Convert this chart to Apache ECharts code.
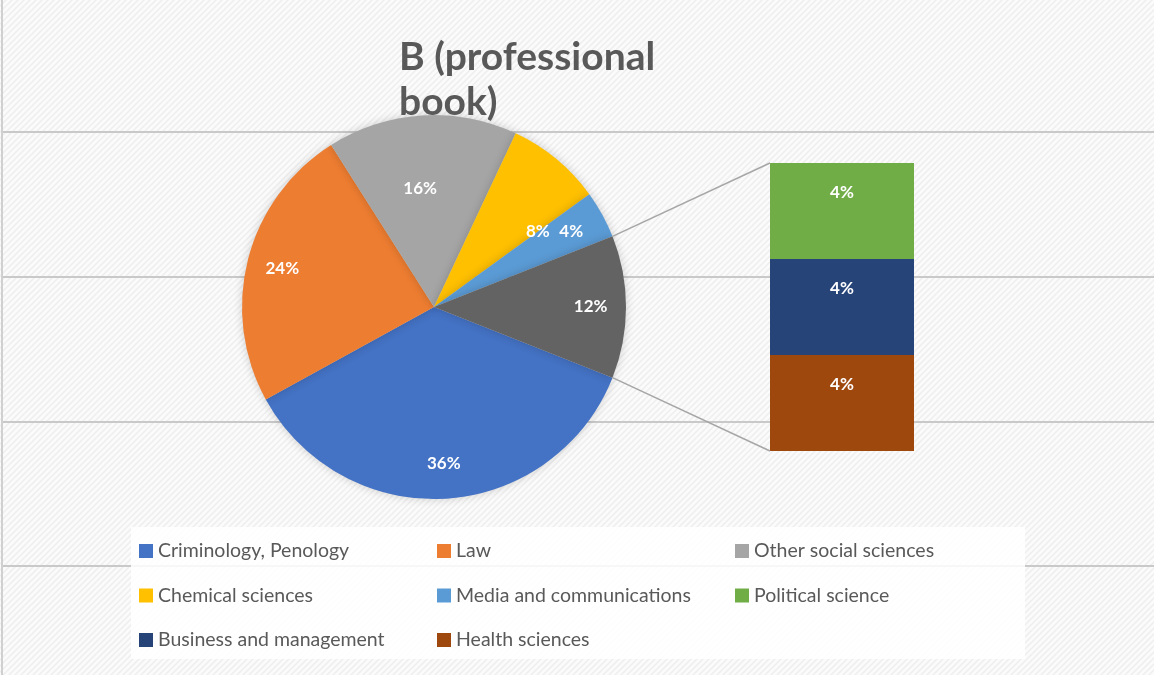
<!DOCTYPE html>
<html>
<head>
<meta charset="utf-8">
<script src="https://cdn.jsdelivr.net/npm/echarts@6/dist/echarts.min.js"></script>
<style>
  html, body { margin: 0; padding: 0; }
  #chart { width: 1154px; height: 675px; }
</style>
</head>
<body>
<div id="chart"></div>
<script>
// pie part
const pieNames = ['Criminology, Penology', 'Law', 'Other social sciences', 'Chemical sciences', 'Media and communications']
const pieValues = [36, 24, 16, 8, 4]
const pieColors = ['#4472c4', '#ed7d31', '#a5a5a5', '#ffc000', '#5b9bd5']

// split-out bar part (top to bottom)
const barNames = ['Political science', 'Business and management', 'Health sciences']
const barValues = [4, 4, 4]
const barColors = ['#70ad47', '#264478', '#9e480e']

const otherColor = '#636363'
const font = 'Lato'

const otherValue = barValues.reduce((a, b) => a + b, 0)
const total = pieValues.reduce((a, b) => a + b, 0) + otherValue

// layout
const cx = 434, cy = 307, r = 192
const barLeft = 770, barTop = 163, barW = 144, barH = 288

const halfAngle = otherValue / total * 180
const startAngle = -halfAngle

const pieData = pieNames.map((n, i) => ({
  name: n, value: pieValues[i], itemStyle: { color: pieColors[i] }
}))
pieData.push({ name: 'Other', value: otherValue, itemStyle: { color: otherColor } })

// label ring, excel "best fit" nudges a couple of labels inward
const labelNudge = { 2: [-4, 38], 3: [4, 45] }
const labelData = pieData.map((d, i) => {
  const item = { value: d.value }
  if (labelNudge[i]) item.label = { offset: labelNudge[i] }
  return item
})

// bar series, stacked bottom-up
const barSeries = []
for (let i = barNames.length - 1; i >= 0; i--) {
  barSeries.push({
    name: barNames[i],
    type: 'bar',
    xAxisIndex: 1,
    yAxisIndex: 1,
    stack: 'other',
    barWidth: '100%',
    data: [barValues[i]],
    itemStyle: { color: barColors[i] },
    label: {
      show: true,
      position: 'insideTop',
      distance: 21,
      formatter: p => p.value + '%',
      color: '#fff',
      fontFamily: font,
      fontWeight: 'bold',
      fontSize: 17
    },
    silent: true
  })
}

// background texture
const pat = document.createElement('canvas')
pat.width = 6
pat.height = 6
const pctx = pat.getContext('2d')
pctx.fillStyle = '#fbfbfb'
pctx.fillRect(0, 0, 6, 6)
pctx.strokeStyle = '#eeeeee'
pctx.lineWidth = 1.5
pctx.beginPath()
pctx.moveTo(0, 6); pctx.lineTo(6, 0)
pctx.moveTo(-3, 3); pctx.lineTo(3, -3)
pctx.moveTo(3, 9); pctx.lineTo(9, 3)
pctx.stroke()

const rad = halfAngle * Math.PI / 180
const p1 = [cx + r * Math.cos(rad), cy - r * Math.sin(rad)]
const p2 = [cx + r * Math.cos(rad), cy + r * Math.sin(rad)]

const legendText = { fontFamily: font, fontSize: 19.5, color: '#595959' }
const legendBase = {
  orient: 'vertical',
  top: 541,
  padding: 0,
  icon: 'rect',
  itemWidth: 14,
  itemHeight: 14,
  itemGap: 24.5,
  selectedMode: false,
  textStyle: legendText
}

const chart = echarts.init(document.getElementById('chart'))

const option = {
  backgroundColor: { image: pat, repeat: 'repeat' },
  animation: false,
  title: {
    text: 'B (professional\nbook)',
    left: 399,
    top: 35,
    padding: 0,
    textStyle: {
      fontFamily: font,
      fontSize: 39,
      fontWeight: 'bold',
      color: '#595959',
      lineHeight: 45
    },
    z: 10
  },
  legend: [
    Object.assign({ left: 139, data: [pieNames[0], pieNames[3], barNames[1]] }, legendBase),
    Object.assign({ left: 437, data: [pieNames[1], pieNames[4], barNames[2]] }, legendBase),
    Object.assign({ left: 735, data: [pieNames[2], barNames[0]] }, legendBase)
  ],
  grid: [
    { left: 3, right: 0, top: 132, bottom: 675 - 566 },
    { left: barLeft, top: barTop, width: barW, height: barH }
  ],
  xAxis: [
    { type: 'value', gridIndex: 0, min: 0, max: 1, show: false },
    { type: 'category', gridIndex: 1, data: [''], show: false }
  ],
  yAxis: [
    {
      type: 'value', gridIndex: 0, min: 0, max: 3, interval: 1,
      axisLine: { show: false }, axisTick: { show: false }, axisLabel: { show: false },
      splitLine: { show: true, lineStyle: { color: '#c9c9c9', width: 2 } }
    },
    { type: 'value', gridIndex: 1, min: 0, max: otherValue, show: false }
  ],
  graphic: [
    {
      type: 'line', z: 1, silent: true,
      shape: { x1: 2, y1: 0, x2: 2, y2: 675 },
      style: { stroke: '#d0d0d0', lineWidth: 2 }
    },
    {
      type: 'rect', z: 1, silent: true,
      shape: { x: 131, y: 527, width: 894, height: 132 },
      style: { fill: 'rgba(255,255,255,0.85)' }
    },
    {
      type: 'line', z: 3, silent: true,
      shape: { x1: p1[0], y1: p1[1], x2: barLeft, y2: barTop },
      style: { stroke: '#a6a6a6', lineWidth: 1.5 }
    },
    {
      type: 'line', z: 3, silent: true,
      shape: { x1: p2[0], y1: p2[1], x2: barLeft, y2: barTop + barH },
      style: { stroke: '#a6a6a6', lineWidth: 1.5 }
    }
  ],
  series: [
    {
      type: 'pie',
      center: [cx, cy],
      radius: [0, r],
      startAngle: startAngle,
      clockwise: true,
      data: pieData,
      label: { show: false },
      labelLine: { show: false },
      itemStyle: { shadowBlur: 10, shadowColor: 'rgba(0,0,0,0.18)' },
      silent: true
    },
    {
      type: 'pie',
      center: [cx, cy],
      radius: [r * 0.6, r],
      startAngle: startAngle,
      clockwise: true,
      data: labelData,
      itemStyle: { color: 'rgba(0,0,0,0)' },
      label: {
        show: true,
        position: 'inside',
        formatter: p => p.value + '%',
        color: '#fff',
        fontFamily: font,
        fontWeight: 'bold',
        fontSize: 17
      },
      labelLine: { show: false },
      silent: true,
      z: 4
    }
  ].concat(barSeries)
}

chart.setOption(option)

window.addEventListener('resize', () => chart.resize())
</script>
</body>
</html>
